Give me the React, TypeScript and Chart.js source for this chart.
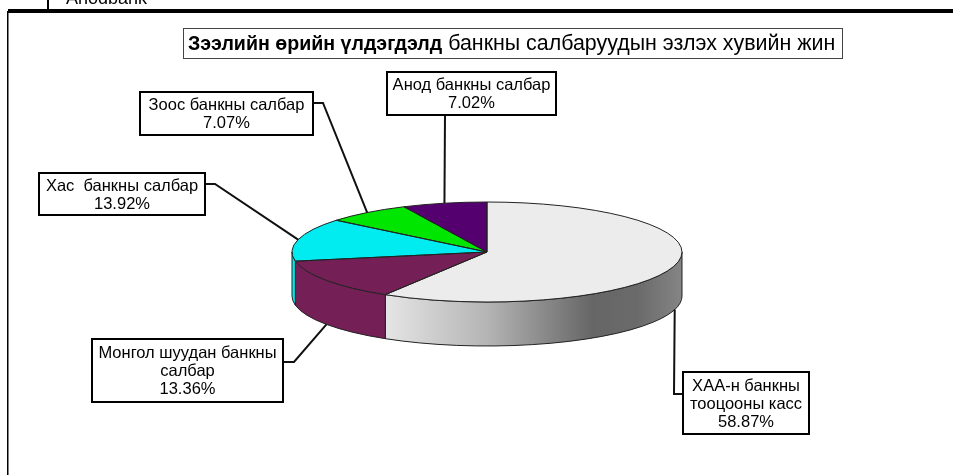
import React, { useEffect, useRef } from "react";
import { Chart, registerables } from "chart.js";

Chart.register(...registerables);

const categories = [
  "ХАА-н банкны тооцооны касс",
  "Монгол шуудан банкны салбар",
  "Хас  банкны салбар",
  "Зоос банкны салбар",
  "Анод банкны салбар",
];
const shares = [58.87, 13.36, 13.92, 7.07, 7.02];
const labelLines = [
  ["ХАА-н банкны", "тооцооны касс"],
  ["Монгол шуудан банкны", "салбар"],
  ["Хас  банкны салбар"],
  ["Зоос банкны салбар"],
  ["Анод банкны салбар"],
];
const sliceColors = ["#ececec", "#751f57", "#00ecf0", "#00e600", "#55006f"];
const titleBold = "Зээлийн өрийн үлдэгдэлд";
const titleRegular = " банкны салбаруудын эзлэх хувийн жин";
const clippedHeading = "Anodbank";

const FONT = '"Liberation Sans", Arial, sans-serif';
const SQUASH = 50 / 195;
const DEPTH = 44;

// box: x, y, w, h; elbow: the leader's corner (null means a straight leader); start: where it leaves the box
const calloutLayout = [
  { box: [683, 372, 126, 62], start: [683, 394], elbow: [674, 394], wall: true },
  { box: [92, 339, 191, 63], start: [283, 362], elbow: [294, 362], wall: true },
  { box: [39, 173, 166, 42], start: [205, 184], elbow: [215, 184], wall: false },
  { box: [140, 92, 173, 43], start: [313, 103], elbow: [323, 103], wall: false },
  { box: [387, 72, 169, 43], start: [445, 115], elbow: null, wall: false },
];

const pie3d = {
  id: "pie3d",
  beforeDatasetsDraw(chart: any) {
    const { ctx } = chart;
    const arcs = chart.getDatasetMeta(0).data;
    const { x: cx, y: cy, outerRadius: r } = arcs[0].getProps(["x", "y", "outerRadius"], true);
    const ry = r * SQUASH;
    const grad = ctx.createLinearGradient(383, 0, 682, 0);
    grad.addColorStop(0, "#e6e6e6");
    grad.addColorStop(0.35, "#b4b4b4");
    grad.addColorStop(0.7, "#666666");
    grad.addColorStop(0.85, "#6a6a6a");
    grad.addColorStop(1, "#858585");
    ctx.save();
    arcs.forEach((arc: any, i: number) => {
      const p = arc.getProps(["startAngle", "endAngle"], true);
      const a = Math.max(p.startAngle, 0);
      const b = Math.min(p.endAngle, Math.PI);
      if (b <= a) return;
      ctx.beginPath();
      ctx.ellipse(cx, cy, r, ry, 0, a, b);
      ctx.ellipse(cx, cy + DEPTH, r, ry, 0, b, a, true);
      ctx.closePath();
      ctx.fillStyle = i === 0 ? grad : sliceColors[i];
      ctx.fill();
      ctx.strokeStyle = "#222";
      ctx.lineWidth = 1;
      ctx.stroke();
    });
    ctx.restore();
    ctx.save();
    ctx.translate(cx, cy);
    ctx.scale(1, SQUASH);
    ctx.translate(-cx, -cy);
  },
  afterDatasetsDraw(chart: any) {
    const { ctx } = chart;
    ctx.restore();
    const arcs = chart.getDatasetMeta(0).data;
    const { x: cx, y: cy, outerRadius: r } = arcs[0].getProps(["x", "y", "outerRadius"], true);
    const ry = r * SQUASH;
    ctx.save();
    ctx.strokeStyle = "#222";
    ctx.lineWidth = 1;
    arcs.forEach((arc: any) => {
      const p = arc.getProps(["startAngle", "endAngle"], true);
      ctx.beginPath();
      ctx.moveTo(cx, cy);
      ctx.ellipse(cx, cy, r, ry, 0, p.startAngle, p.endAngle);
      ctx.closePath();
      ctx.stroke();
    });
    ctx.restore();
  },
};

const callouts = {
  id: "callouts",
  afterDraw(chart: any) {
    const { ctx } = chart;
    const arcs = chart.getDatasetMeta(0).data;
    ctx.save();
    ctx.textAlign = "center";
    ctx.textBaseline = "alphabetic";
    arcs.forEach((arc: any, i: number) => {
      const p = arc.getProps(["x", "y", "outerRadius", "startAngle", "endAngle"], true);
      const mid = (p.startAngle + p.endAngle) / 2;
      const layout = calloutLayout[i];
      const ax = p.x + p.outerRadius * Math.cos(mid);
      const ay = p.y + p.outerRadius * SQUASH * Math.sin(mid) + (layout.wall ? DEPTH : 0);
      ctx.beginPath();
      ctx.moveTo(layout.start[0], layout.start[1]);
      if (layout.elbow) ctx.lineTo(layout.elbow[0], layout.elbow[1]);
      ctx.lineTo(ax, ay);
      ctx.strokeStyle = "#111";
      ctx.lineWidth = 2;
      ctx.stroke();
      const [bx, by, bw, bh] = layout.box;
      ctx.fillStyle = "#fff";
      ctx.fillRect(bx, by, bw, bh);
      ctx.strokeStyle = "#000";
      ctx.lineWidth = 2;
      ctx.strokeRect(bx, by, bw, bh);
      const lines = [...labelLines[i], shares[i].toFixed(2) + "%"];
      const lh = 18;
      const first = by + bh / 2 - (lh * lines.length) / 2 + 14.5;
      ctx.fillStyle = "#000";
      ctx.font = `16.5px ${FONT}`;
      lines.forEach((t: string, k: number) => ctx.fillText(t, bx + bw / 2, first + k * lh));
    });
    ctx.restore();
  },
};

const frame = {
  id: "frame",
  afterDraw(chart: any) {
    const { ctx } = chart;
    ctx.save();
    // the page's clipped heading and the frame round the picture
    ctx.fillStyle = "#000";
    ctx.font = `18px ${FONT}`;
    ctx.textAlign = "left";
    ctx.textBaseline = "alphabetic";
    ctx.fillText(clippedHeading, 66, 4);
    ctx.fillRect(47, 0, 2, 10);
    ctx.fillRect(8, 9, 945, 4);
    ctx.fillRect(7, 11, 1.5, 464);
    // title
    const x0 = 183;
    const y0 = 28;
    const w = 659;
    const h = 30;
    ctx.fillStyle = "#fff";
    ctx.fillRect(x0, y0, w, h);
    ctx.strokeStyle = "#444";
    ctx.lineWidth = 1;
    ctx.strokeRect(x0 + 0.5, y0 + 0.5, w, h);
    ctx.fillStyle = "#000";
    ctx.font = `bold 19.6px ${FONT}`;
    const bw = ctx.measureText(titleBold).width;
    ctx.fillText(titleBold, 188, 50);
    ctx.font = `21.4px ${FONT}`;
    ctx.fillText(titleRegular, 188 + bw, 50);
    ctx.restore();
  },
};

export default function App() {
  const ref = useRef<HTMLCanvasElement | null>(null);
  useEffect(() => {
    const chart = new Chart(ref.current as HTMLCanvasElement, {
      type: "pie",
      data: {
        labels: categories,
        datasets: [{ data: shares, backgroundColor: sliceColors, borderWidth: 0 }],
      },
      options: {
        responsive: false,
        animation: false,
        layout: { padding: { left: 292, right: 271, top: 57, bottom: 28 } },
        plugins: { legend: { display: false }, tooltip: { enabled: false }, title: { display: false } },
      },
      plugins: [pie3d, callouts, frame],
    } as any);
    return () => chart.destroy();
  }, []);
  return (
    <div style={{ position: "absolute", left: 0, top: 0, width: 953, height: 475, background: "#fff" }}>
      <canvas ref={ref} width={953} height={475} style={{ display: "block" }} />
    </div>
  );
}
